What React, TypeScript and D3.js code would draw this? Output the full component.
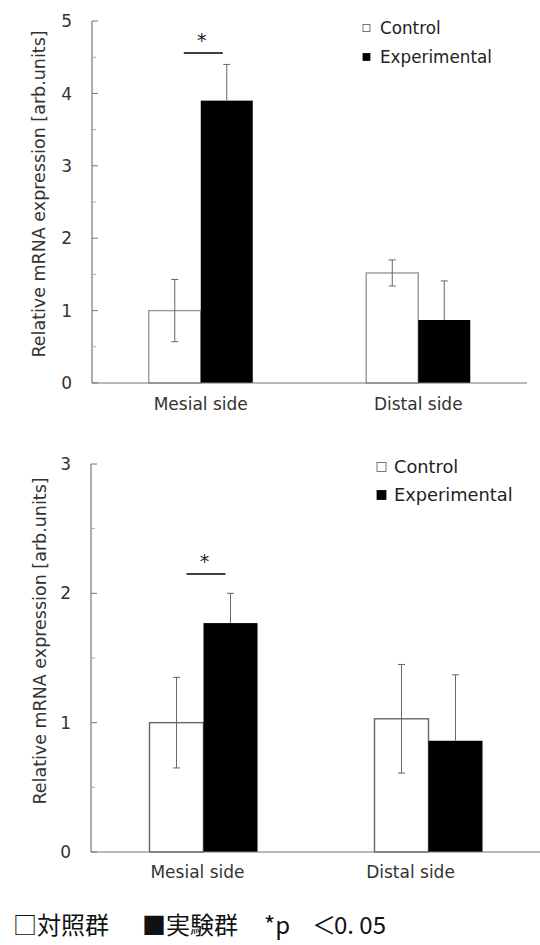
import React from "react";
import * as d3 from "d3";

const W = 540;
const H = 945;
const FONT = "DejaVu Sans, Verdana, sans-serif";

const categories = ["Mesial side", "Distal side"];
const seriesNames = ["Control", "Experimental"];

// upper panel
const topControl = [1.0, 1.52];
const topControlErr = [0.43, 0.18];
const topExp = [3.9, 0.87];
const topExpErr = [0.5, 0.54];
const topTicks = [0, 1, 2, 3, 4, 5];

// lower panel
const botControl = [1.0, 1.03];
const botControlErr = [0.35, 0.42];
const botExp = [1.77, 0.86];
const botExpErr = [0.23, 0.51];
const botTicks = [0, 1, 2, 3];

const footerParts = ["□対照群", "■実験群", "*p", "＜", "0. 05"];

const panels = [
  {
    control: topControl, controlErr: topControlErr, exp: topExp, expErr: topExpErr, ticks: topTicks,
    left: 92, right: 527, top: 21, bottom: 383, barW: 52,
    legend: { x: 363, y: 28, gap: 29, box: 7, font: 16.8, textX: 380 },
    sigY: 53, labelY: 410, labelDx: [0, 0], titleX: 39, titleY: 194, tickFont: 17, barStroke: "#999",
  },
  {
    control: botControl, controlErr: botControlErr, exp: botExp, expErr: botExpErr, ticks: botTicks,
    left: 91, right: 541, top: 464, bottom: 852, barW: 54,
    legend: { x: 377, y: 467, gap: 28, box: 9, font: 17.8, textX: 394 },
    sigY: 574, labelY: 878, labelDx: [-6, -18], titleX: 40, titleY: 641, tickFont: 17, barStroke: "#666",
  },
];

function Panel({ p }: { p: any }) {
  const max = p.ticks[p.ticks.length - 1];
  const y = d3.scaleLinear().domain([0, max]).range([p.bottom, p.top]);
  const x = d3.scaleBand().domain(categories).range([p.left, p.right]).padding(0);
  const center = (c: string) => (x(c) as number) + x.bandwidth() / 2;
  const inner = d3.scaleBand().domain(seriesNames).range([-p.barW, p.barW]);
  const minor = d3.range(0.5, max, 1);
  const axisColor = "#777";
  const errColor = "#666";
  const cap = 3.5;

  return (
    <g>
      {/* bars */}
      {categories.map((c, i) => {
        const cx = center(c);
        const xc = cx + (inner("Control") as number);
        const xe = cx + (inner("Experimental") as number);
        const vc = p.control[i], ec = p.controlErr[i];
        const ve = p.exp[i], ee = p.expErr[i];
        const mc = xc + inner.bandwidth() / 2;
        const me = xe + inner.bandwidth() / 2;
        return (
          <g key={c}>
            <rect x={xc} y={y(vc)} width={inner.bandwidth()} height={p.bottom - y(vc)}
              fill="#fff" stroke={p.barStroke} strokeWidth={1.4} />
            <rect x={xe} y={y(ve)} width={inner.bandwidth()} height={p.bottom - y(ve)}
              fill="#000" />
            <line x1={mc} x2={mc} y1={y(vc + ec)} y2={y(vc - ec)} stroke={errColor} strokeWidth={1} />
            <line x1={mc - cap} x2={mc + cap} y1={y(vc + ec)} y2={y(vc + ec)} stroke={errColor} />
            <line x1={mc - cap} x2={mc + cap} y1={y(vc - ec)} y2={y(vc - ec)} stroke={errColor} />
            <line x1={me} x2={me} y1={y(ve + ee)} y2={y(ve)} stroke={errColor} strokeWidth={1} />
            <line x1={me - cap} x2={me + cap} y1={y(ve + ee)} y2={y(ve + ee)} stroke={errColor} />
          </g>
        );
      })}

      {/* y axis */}
      <line x1={p.left} x2={p.left} y1={y(max)} y2={p.bottom} stroke={axisColor} strokeWidth={1.2} />
      {p.ticks.map((t: number) => (
        <g key={t}>
          <line x1={p.left} x2={p.left + 6} y1={y(t)} y2={y(t)} stroke={axisColor} />
          <text x={p.left - 20} y={y(t)} dy="0.36em" textAnchor="end" fontSize={p.tickFont}
            fontFamily={FONT} fill="#333">{t}</text>
        </g>
      ))}
      {minor.map((t: number) => (
        <line key={t} x1={p.left - 1} x2={p.left + 4} y1={y(t)} y2={y(t)} stroke="#aaa" />
      ))}
      <text transform={`translate(${p.titleX},${p.titleY}) rotate(-90)`} textAnchor="middle"
        dy="0.35em" fontSize={17.5} fontFamily={FONT} fill="#333">
        Relative mRNA expression [arb.units]
      </text>

      {/* x axis */}
      <line x1={p.left} x2={p.right} y1={p.bottom} y2={p.bottom} stroke={axisColor} strokeWidth={1.2} />
      {categories.map((c, i) => (
        <text key={c} x={center(c) + p.labelDx[i]} y={p.labelY} textAnchor="middle" fontSize={p.tickFont}
          fontFamily={FONT} fill="#333">{c}</text>
      ))}

      {/* significance */}
      <line x1={center(categories[0]) - 17} x2={center(categories[0]) + 22} y1={p.sigY} y2={p.sigY}
        stroke="#000" strokeWidth={1.3} />
      <text x={center(categories[0]) + 1} y={p.sigY - 6} textAnchor="middle" fontSize={19}
        fontFamily={FONT} fill="#222">*</text>

      {/* legend */}
      {seriesNames.map((s, i) => {
        const ly = p.legend.y + i * p.legend.gap;
        return (
          <g key={s}>
            <rect x={p.legend.x} y={ly - p.legend.box / 2} width={p.legend.box} height={p.legend.box}
              fill={i === 0 ? "#fff" : "#000"} stroke={i === 0 ? "#555" : "#000"} strokeWidth={0.8} />
            <text x={p.legend.textX} y={ly} dy="0.35em" fontSize={p.legend.font}
              fontFamily={FONT} fill="#222">{s}</text>
          </g>
        );
      })}
    </g>
  );
}

export default function App() {
  return (
    <svg width={W} height={H} style={{ position: "absolute", left: 0, top: 0, background: "#fff" }}>
      <rect width={W} height={H} fill="#fff" />
      {panels.map((p, i) => (
        <Panel key={i} p={p} />
      ))}
      <text y={934} fontSize={24} fontFamily="Noto Sans CJK JP, sans-serif" fill="#111">
        <tspan x={13}>{footerParts[0]}</tspan>
        <tspan x={142}>{footerParts[1]}</tspan>
        <tspan x={264}>{footerParts[2]}</tspan>
        <tspan x={312}>{footerParts[3]}</tspan>
        <tspan x={334}>{footerParts[4]}</tspan>
      </text>
    </svg>
  );
}
